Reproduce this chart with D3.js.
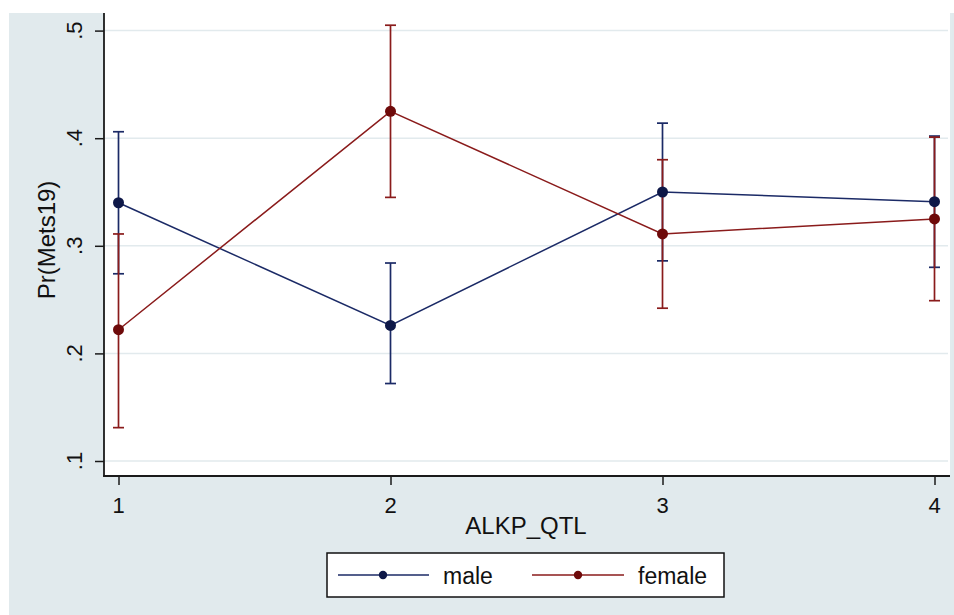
<!DOCTYPE html>
<html>
<head>
<meta charset="utf-8">
<script src="https://cdn.jsdelivr.net/npm/d3@7"></script>
<style>
  html, body { margin: 0; padding: 0; background: #ffffff; }
  svg { display: block; }
  text { font-family: "Liberation Sans", Arial, sans-serif; fill: #111; }
</style>
</head>
<body>
<svg id="chart" width="954" height="615"></svg>
<script>
const categories = [1, 2, 3, 4];
const maleMean   = [0.340, 0.226, 0.350, 0.341];
const maleLo     = [0.274, 0.172, 0.286, 0.280];
const maleHi     = [0.406, 0.284, 0.414, 0.402];
const femaleMean = [0.222, 0.425, 0.311, 0.325];
const femaleLo   = [0.131, 0.345, 0.242, 0.249];
const femaleHi   = [0.311, 0.505, 0.380, 0.401];
const yTicks = [0.1, 0.2, 0.3, 0.4, 0.5];
const yTickLabels = [".1", ".2", ".3", ".4", ".5"];
const xTickLabels = ["1", "2", "3", "4"];
const seriesNames = ["male", "female"];
const xTitle = "ALKP_QTL";
const yTitle = "Pr(Mets19)";

const colors = { male: "#1b2a66", female: "#8a1b1b" };
const markerColors = { male: "#0e1848", female: "#6e0a0a" };

const svg = d3.select("#chart");
const W = 954, H = 615;
const plot = { left: 104, right: 950, top: 13, bottom: 476 };

const x = d3.scaleLinear().domain([1, 4]).range([118.5, 934.5]);
const y = d3.scaleLinear().domain([0.1, 0.5]).range([461, 30.6]);

// background
svg.append("rect").attr("x", 9).attr("y", 13).attr("width", W - 9).attr("height", H - 13).attr("fill", "#e1eaed");
svg.append("rect").attr("x", plot.left).attr("y", 0).attr("width", plot.right - plot.left).attr("height", plot.bottom)
  .attr("fill", "#ffffff");
svg.append("line").attr("x1", 951).attr("x2", 951).attr("y1", 13).attr("y2", plot.bottom).attr("stroke", "#e3ecef").attr("stroke-width", 1);

// gridlines
svg.append("g").selectAll("line").data(yTicks).join("line")
  .attr("x1", plot.left + 1).attr("x2", plot.right - 2)
  .attr("y1", d => y(d)).attr("y2", d => y(d))
  .attr("stroke", "#e2eaed").attr("stroke-width", 1.5);

// axes
const yAxis = d3.axisLeft(y).tickValues(yTicks).tickSize(9).tickFormat("");
const gy = svg.append("g").attr("transform", `translate(${plot.left},0)`).call(yAxis);
gy.select(".domain").remove();
gy.selectAll(".tick line").attr("stroke", "#1a1a1a").attr("stroke-width", 1.5);
svg.append("line").attr("x1", plot.left).attr("x2", plot.left).attr("y1", 13).attr("y2", plot.bottom + 0.75)
  .attr("stroke", "#1a1a1a").attr("stroke-width", 1.8);

const xAxis = d3.axisBottom(x).tickValues(categories).tickSize(9).tickFormat("");
const gx = svg.append("g").attr("transform", `translate(0,${plot.bottom})`).call(xAxis);
gx.select(".domain").remove();
gx.selectAll(".tick line").attr("stroke", "#1a1a1a").attr("stroke-width", 1.5);
svg.append("line").attr("x1", plot.left - 0.9).attr("x2", plot.right).attr("y1", plot.bottom).attr("y2", plot.bottom)
  .attr("stroke", "#1a1a1a").attr("stroke-width", 1.8);

// y tick labels (rotated)
svg.append("g").selectAll("text").data(yTicks).join("text")
  .attr("transform", d => `translate(82,${y(d)}) rotate(-90)`)
  .attr("text-anchor", "middle").attr("font-size", 22)
  .text((d, i) => yTickLabels[i]);

// x tick labels
svg.append("g").selectAll("text").data(categories).join("text")
  .attr("x", d => x(d)).attr("y", 513)
  .attr("text-anchor", "middle").attr("font-size", 22)
  .text((d, i) => xTickLabels[i]);

// titles
svg.append("text").attr("x", 526).attr("y", 534).attr("text-anchor", "middle").attr("font-size", 24).text(xTitle);
svg.append("text").attr("transform", "translate(55,240) rotate(-90)").attr("text-anchor", "middle").attr("font-size", 24).text(yTitle);

// series
const series = [
  { name: "male", mean: maleMean, lo: maleLo, hi: maleHi },
  { name: "female", mean: femaleMean, lo: femaleLo, hi: femaleHi }
];
const capW = 5.5;

// CIs
series.forEach(s => {
  const g = svg.append("g").attr("stroke", colors[s.name]).attr("stroke-width", 1.7);
  categories.forEach((c, i) => {
    g.append("line").attr("x1", x(c)).attr("x2", x(c)).attr("y1", y(s.lo[i])).attr("y2", y(s.hi[i]));
    g.append("line").attr("x1", x(c) - capW).attr("x2", x(c) + capW).attr("y1", y(s.lo[i])).attr("y2", y(s.lo[i]));
    g.append("line").attr("x1", x(c) - capW).attr("x2", x(c) + capW).attr("y1", y(s.hi[i])).attr("y2", y(s.hi[i]));
  });
});

// lines
const lineGen = d3.line().x(d => x(d[0])).y(d => y(d[1]));
series.forEach(s => {
  svg.append("path").datum(categories.map((c, i) => [c, s.mean[i]]))
    .attr("d", lineGen).attr("fill", "none").attr("stroke", colors[s.name]).attr("stroke-width", 1.5);
});
// markers
series.forEach(s => {
  svg.append("g").selectAll("circle").data(categories).join("circle")
    .attr("cx", d => x(d)).attr("cy", (d, i) => y(s.mean[i])).attr("r", 5.5)
    .attr("fill", markerColors[s.name]);
});

// legend
const leg = svg.append("g");
leg.append("rect").attr("x", 327).attr("y", 553).attr("width", 397).attr("height", 44)
  .attr("fill", "#ffffff").attr("stroke", "#111").attr("stroke-width", 1.5);
const legItems = [
  { name: "male", x1: 338, x2: 429, mx: 383, tx: 443 },
  { name: "female", x1: 532, x2: 624, mx: 578, tx: 638 }
];
legItems.forEach((it, i) => {
  leg.append("line").attr("x1", it.x1).attr("x2", it.x2).attr("y1", 575).attr("y2", 575)
    .attr("stroke", colors[it.name]).attr("stroke-width", 1.5);
  leg.append("circle").attr("cx", it.mx).attr("cy", 575).attr("r", 4.2).attr("fill", markerColors[it.name]);
  leg.append("text").attr("x", it.tx).attr("y", 584).attr("font-size", 23).text(seriesNames[i]);
});
</script>
</body>
</html>
